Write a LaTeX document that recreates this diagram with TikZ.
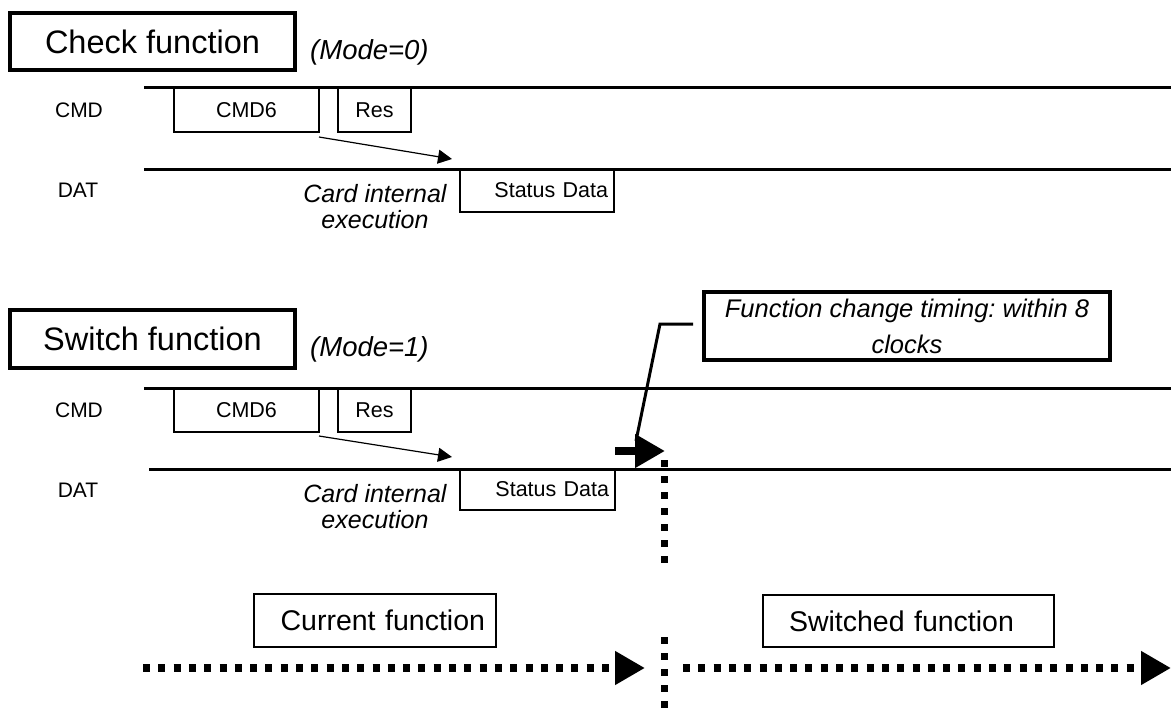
\documentclass[tikz,border=0pt]{standalone}
\usepackage{fontspec}
\setmainfont{Liberation Sans}
\usetikzlibrary{arrows.meta}
\frenchspacing
\begin{document}
\begin{tikzpicture}[x=1pt,y=-1pt,
  sig/.style={line width=3pt},
  thinbox/.style={draw, line width=1.5pt, inner sep=0pt, outer sep=0pt, anchor=north west, font=\fontsize{21.5}{24}\selectfont},
  titlebox/.style={draw, line width=3.8pt, inner sep=0pt, outer sep=0pt, anchor=north west, font=\fontsize{32.5}{36}\selectfont},
  funcbox/.style={draw, line width=2.5pt, outer sep=0pt, inner ysep=0pt, anchor=north west, font=\fontsize{28.5}{32}\selectfont},
  lbl/.style={font=\fontsize{21}{24}\selectfont, inner sep=0pt},
  itl/.style={font=\fontsize{25}{26}\selectfont\itshape, inner sep=0pt, align=center},
  modetxt/.style={font=\fontsize{27.5}{30}\selectfont\itshape, inner sep=0pt},
  thinarrow/.style={line width=1.2pt, -{Triangle[length=14pt,width=14pt]}},
  bigarrow/.style={line width=8pt, -{Triangle[length=30pt,width=32pt]}},
  dotline/.style={line width=7pt, dash pattern=on 7pt off 9pt},
  dotarrow/.style={line width=8pt, dash pattern=on 7pt off 8.3pt, -{Triangle[length=30pt,width=32pt]}},
  leader/.style={line width=3pt}
]
\useasboundingbox (0,0) rectangle (1171,709);

% ---------- Check function ----------
\node[titlebox, minimum width=285, minimum height=57] (chk) at (10,13) {Check function};
\node[modetxt, anchor=west] (mode0) at (310,52) {(Mode=0)};
\node[lbl] (cmdl1) at (79,110) {CMD};
\node[lbl] (datl1) at (78,190) {DAT};
\coordinate (cmdA1) at (144,88);
\coordinate (cmdB1) at (1171,88);
\coordinate (datA1) at (144,169);
\coordinate (datB1) at (1171,169);
\draw[sig] (cmdA1) -- (cmdB1);
\draw[sig] (datA1) -- (datB1);
\node[thinbox, minimum width=145, minimum height=44] (cmd6a) at (174,88) {CMD6};
\node[thinbox, minimum width=73, minimum height=44] (resa) at (338,88) {Res};
\node[thinbox, minimum height=43, inner xsep=6pt, text width=142, align=right] (stata) at (460,169) {Status Data};
\coordinate (arrA1) at (319,137);
\coordinate (arrB1) at (452,159);
\draw[thinarrow] (arrA1) -- (arrB1);
\node[itl] (exec1) at (375,207) {Card internal\\execution};

% ---------- Switch function ----------
\node[titlebox, minimum width=285, minimum height=58] (sw) at (10,310) {Switch function};
\node[modetxt, anchor=west] (mode1) at (310,349) {(Mode=1)};
\node[lbl] (cmdl2) at (79,410) {CMD};
\node[lbl] (datl2) at (78,490) {DAT};
\coordinate (cmdA2) at (144,388);
\coordinate (cmdB2) at (1171,388);
\coordinate (datA2) at (149,469);
\coordinate (datB2) at (1171,469);
\draw[sig] (cmdA2) -- (cmdB2);
\draw[sig] (datA2) -- (datB2);
\node[thinbox, minimum width=145, minimum height=44] (cmd6b) at (174,388) {CMD6};
\node[thinbox, minimum width=73, minimum height=44] (resb) at (338,388) {Res};
\node[thinbox, minimum height=41, inner xsep=6pt, text width=143, align=right] (statb) at (460,469) {Status Data};
\coordinate (arrA2) at (319,436);
\coordinate (arrB2) at (452,457);
\draw[thinarrow] (arrA2) -- (arrB2);
\node[itl] (exec2) at (375,507) {Card internal\\execution};

% callout
\node[draw, line width=4pt, outer sep=0pt, inner sep=0pt, anchor=north west, minimum width=406, minimum height=68,
      align=center, font=\fontsize{25.5}{36}\selectfont\itshape] (callout) at (704,292)
      {Function change timing: within 8\\clocks};
\coordinate (ldA) at (693,324);
\coordinate (ldB) at (660,324);
\coordinate (ldC) at (636,441);
\draw[leader] (ldA) -- (ldB) -- (ldC);

% thick arrow
\coordinate (bigA) at (615,451);
\coordinate (bigB) at (665,451);
\draw[bigarrow] (bigA) -- (bigB);

% vertical dotted divider
\coordinate (vA) at (664,460);
\coordinate (vB) at (664,568);
\coordinate (vC) at (664,637);
\coordinate (vD) at (664,712);
\draw[dotline] (vA) -- (vB);
\draw[dotline] (vC) -- (vD);

% bottom
\node[funcbox, minimum width=242, minimum height=53, inner xsep=11pt, text width=220, align=right] (cur) at (254,594) {Current function};
\node[funcbox, minimum width=291, minimum height=52, inner xsep=26pt, text width=239, align=left] (swd) at (763,595) {Switched function};
\coordinate (hA) at (143,668);
\coordinate (hB) at (645,668);
\coordinate (hC) at (683,668);
\coordinate (hD) at (1171,668);
\draw[dotarrow] (hA) -- (hB);
\draw[dotarrow] (hC) -- (hD);
\end{tikzpicture}
\end{document}
